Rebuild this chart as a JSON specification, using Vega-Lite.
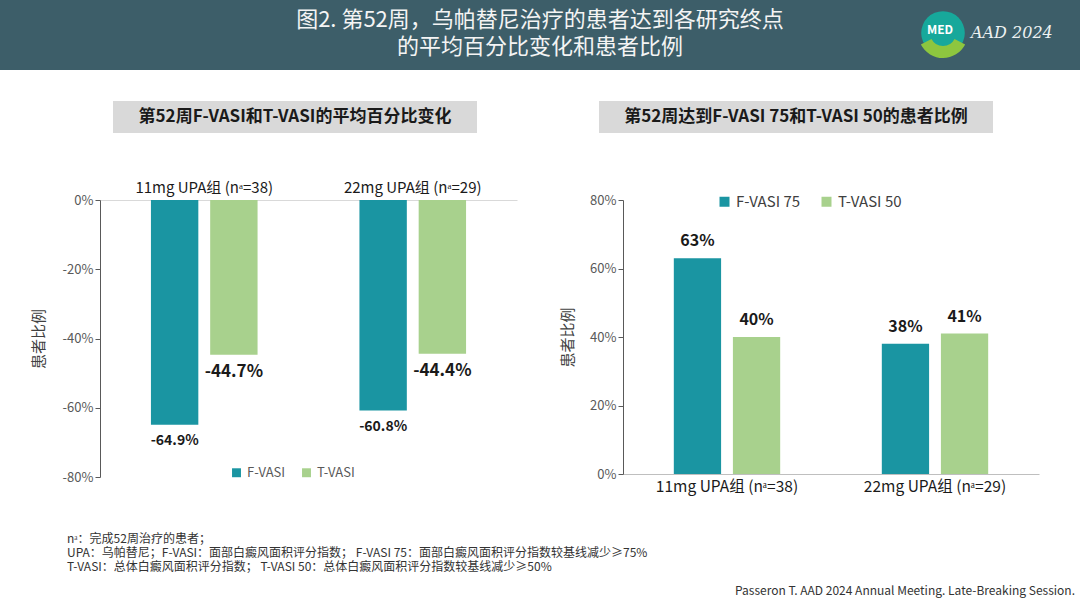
{
  "$schema": "https://vega.github.io/schema/vega-lite/v6.json",
  "padding": 0,
  "background": "white",
  "spacing": 4,
  "config": {
    "view": {"stroke": null},
    "font": "Noto Sans CJK SC",
    "locale": {"number": {"decimal": ".", "thousands": ",", "grouping": [3], "currency": ["$", ""], "minus": "-"}}
  },
  "vconcat": [
    {
      "spacing": 47,
      "vconcat": [
        {
          "spacing": 31,
          "vconcat": [
            {
              "width": 1080,
              "height": 70,
              "view": {"fill": "#3d5e69", "stroke": null},
              "layer": [
                {
                  "data": {"values": [
                    {"line": 1, "t": "图2. 第52周，乌帕替尼治疗的患者达到各研究终点"},
                    {"line": 2, "t": "的平均百分比变化和患者比例"}
                  ]},
                  "mark": {"type": "text", "fontSize": 22, "color": "#f4f4f4"},
                  "encoding": {
                    "y": {"field": "line", "type": "ordinal", "scale": {"type": "point", "range": [20, 47], "padding": 0}, "axis": null},
                    "text": {"field": "t"}
                  }
                },
                {
                  "data": {"values": [{"logo": "MED"}]},
                  "layer": [
                    {
                      "mark": {"type": "point", "shape": "circle", "filled": true, "size": 1900, "color": "#17a89b", "opacity": 1},
                      "encoding": {"x": {"value": 943}, "y": {"value": 33}}
                    },
                    {
                      "mark": {"type": "arc", "radius": 25, "radius2": 13, "theta": 2.05, "theta2": 4.23, "color": "#8dc63f"},
                      "encoding": {"x": {"value": 943}, "y": {"value": 33}}
                    },
                    {
                      "mark": {"type": "text", "fontSize": 12, "fontWeight": "bold", "color": "white"},
                      "encoding": {"x": {"value": 940}, "y": {"value": 30}, "text": {"field": "logo"}}
                    },
                    {
                      "mark": {"type": "text", "fontSize": 16, "font": "DejaVu Serif", "fontStyle": "italic", "color": "#eef2f2", "align": "left"},
                      "encoding": {"x": {"value": 971}, "y": {"value": 33}, "text": {"value": "AAD 2024"}}
                    }
                  ]
                }
              ]
            },
            {
              "spacing": 112,
              "hconcat": [
                {"width": 1, "height": 1, "data": {"values": []}, "mark": "point", "encoding": {}},
                {
                  "spacing": 122,
                  "hconcat": [
                    {
                      "width": 364,
                      "height": 32,
                      "view": {"fill": "#d9d9d9", "stroke": null},
                      "data": {"values": [{"t": "第52周F-VASI和T-VASI的平均百分比变化"}]},
                      "mark": {"type": "text", "fontSize": 17, "fontWeight": "bold", "color": "#1a1a1a"},
                      "encoding": {"text": {"field": "t"}}
                    },
                    {
                      "width": 394,
                      "height": 32,
                      "view": {"fill": "#d9d9d9", "stroke": null},
                      "data": {"values": [{"t": "第52周达到F-VASI 75和T-VASI 50的患者比例"}]},
                      "mark": {"type": "text", "fontSize": 17, "fontWeight": "bold", "color": "#1a1a1a"},
                      "encoding": {"text": {"field": "t"}}
                    }
                  ]
                }
              ]
            }
          ]
        },
        {
          "spacing": 30,
          "hconcat": [
            {"width": 1, "height": 1, "data": {"values": []}, "mark": "point", "encoding": {}},
            {
              "spacing": 106,
              "bounds": "flush",
              "resolve": {
                "scale": {"color": "independent", "x": "independent", "xOffset": "independent", "y": "independent"},
                "legend": {"color": "independent"}
              },
              "hconcat": [
                {
                  "width": 417,
                  "height": 277,
                  "data": {"values": [
                    {"group": "11mg UPA组 (nᵃ=38)", "measure": "F-VASI", "value": -0.649},
                    {"group": "11mg UPA组 (nᵃ=38)", "measure": "T-VASI", "value": -0.447},
                    {"group": "22mg UPA组 (nᵃ=29)", "measure": "F-VASI", "value": -0.608},
                    {"group": "22mg UPA组 (nᵃ=29)", "measure": "T-VASI", "value": -0.444}
                  ]},
                  "encoding": {
                    "x": {
                      "field": "group", "type": "nominal", "sort": null,
                      "scale": {"paddingInner": 0, "paddingOuter": 0},
                      "axis": {"orient": "top", "title": null, "labelAngle": 0, "labelFontSize": 15, "labelColor": "#1a1a1a", "labelPadding": 5, "ticks": false, "domainColor": "#d9d9d9"}
                    },
                    "xOffset": {"field": "measure", "type": "nominal", "scale": {"paddingInner": 0.2, "paddingOuter": 0.86}},
                    "y": {
                      "field": "value", "type": "quantitative",
                      "scale": {"domain": [-0.8, 0], "nice": false},
                      "axis": {"title": "患者比例", "values": [0, -0.2, -0.4, -0.6, -0.8], "format": ".0%", "grid": false, "labelFontSize": 13, "labelColor": "#595959", "titleFontSize": 15, "titleFontWeight": "normal", "titleColor": "#404040", "titlePadding": 16, "domainColor": "#595959", "tickColor": "#595959", "tickSize": 5}
                    }
                  },
                  "layer": [
                    {
                      "mark": {"type": "bar"},
                      "encoding": {
                        "color": {
                          "field": "measure", "type": "nominal",
                          "scale": {"domain": ["F-VASI", "T-VASI"], "range": ["#1a95a2", "#a8d18d"]},
                          "legend": {"orient": "none", "legendX": 130, "legendY": 266, "direction": "horizontal", "title": null, "symbolType": "square", "symbolSize": 80, "labelFontSize": 13, "labelColor": "#595959", "columnPadding": 14}
                        }
                      }
                    },
                    {
                      "mark": {"type": "text", "baseline": "top", "dy": 9, "fontWeight": "bold", "color": "#1a1a1a"},
                      "encoding": {
                        "text": {"field": "value", "format": ".1%"},
                        "size": {"condition": {"test": "datum.measure === 'T-VASI'", "value": 17}, "value": 14}
                      }
                    }
                  ]
                },
                {
                  "width": 416,
                  "height": 274,
                  "data": {"values": [
                    {"group": "11mg UPA组 (nᵃ=38)", "measure": "F-VASI 75", "value": 0.63},
                    {"group": "11mg UPA组 (nᵃ=38)", "measure": "T-VASI 50", "value": 0.40},
                    {"group": "22mg UPA组 (nᵃ=29)", "measure": "F-VASI 75", "value": 0.38},
                    {"group": "22mg UPA组 (nᵃ=29)", "measure": "T-VASI 50", "value": 0.41}
                  ]},
                  "encoding": {
                    "x": {
                      "field": "group", "type": "nominal", "sort": null,
                      "scale": {"paddingInner": 0, "paddingOuter": 0},
                      "axis": {"title": null, "labelAngle": 0, "labelFontSize": 15.5, "labelColor": "#1a1a1a", "labelPadding": 5, "ticks": false, "domainColor": "#bfbfbf"}
                    },
                    "xOffset": {"field": "measure", "type": "nominal", "scale": {"paddingInner": 0.2, "paddingOuter": 0.86}},
                    "y": {
                      "field": "value", "type": "quantitative",
                      "scale": {"domain": [0, 0.8], "nice": false},
                      "axis": {"title": "患者比例", "values": [0, 0.2, 0.4, 0.6, 0.8], "format": ".0%", "grid": false, "labelFontSize": 13, "labelColor": "#595959", "titleFontSize": 15, "titleFontWeight": "normal", "titleColor": "#404040", "titlePadding": 14, "domainColor": "#595959", "tickColor": "#595959", "tickSize": 5}
                    }
                  },
                  "layer": [
                    {
                      "mark": {"type": "bar"},
                      "encoding": {
                        "color": {
                          "field": "measure", "type": "nominal",
                          "scale": {"domain": ["F-VASI 75", "T-VASI 50"], "range": ["#1a95a2", "#a8d18d"]},
                          "legend": {"orient": "none", "legendX": 94, "legendY": -6, "direction": "horizontal", "title": null, "symbolType": "square", "symbolSize": 100, "labelFontSize": 15, "labelColor": "#404040", "columnPadding": 18}
                        }
                      }
                    },
                    {
                      "mark": {"type": "text", "baseline": "bottom", "dy": -9, "fontSize": 16, "fontWeight": "bold", "color": "#1a1a1a"},
                      "encoding": {"text": {"field": "value", "format": ".0%"}}
                    }
                  ]
                }
              ]
            }
          ]
        }
      ]
    },
    {
      "width": 1080,
      "height": 108,
      "layer": [
        {
          "data": {"values": [
            {"line": 1, "t": "nᵃ：完成52周治疗的患者；"},
            {"line": 2, "t": "UPA：乌帕替尼；F-VASI：面部白癜风面积评分指数；  F-VASI 75：面部白癜风面积评分指数较基线减少≥75%"},
            {"line": 3, "t": "T-VASI：总体白癜风面积评分指数；  T-VASI 50：总体白癜风面积评分指数较基线减少≥50%"}
          ]},
          "mark": {"type": "text", "align": "left", "fontSize": 12, "color": "#333333"},
          "encoding": {
            "x": {"value": 67},
            "y": {"field": "line", "type": "ordinal", "scale": {"type": "point", "range": [40, 68], "padding": 0}, "axis": null},
            "text": {"field": "t"}
          }
        },
        {
          "data": {"values": [{"t": "Passeron T. AAD 2024 Annual Meeting. Late-Breaking Session."}]},
          "mark": {"type": "text", "align": "right", "fontSize": 12, "color": "#333333"},
          "encoding": {"x": {"value": 1075}, "y": {"value": 92}, "text": {"field": "t"}}
        }
      ]
    }
  ]
}
